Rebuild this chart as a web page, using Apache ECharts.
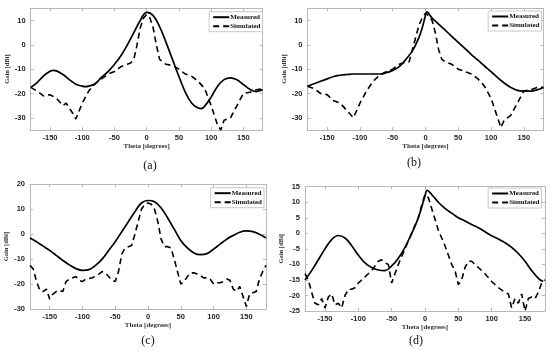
<!DOCTYPE html>
<html><head><meta charset="utf-8">
<script src="https://cdn.jsdelivr.net/npm/echarts@6/dist/echarts.min.js"></script>
<style>html,body{margin:0;padding:0;background:#fff}#c{width:550px;height:352px}</style>
</head><body><div id="c"></div>
<script>
// ---- data ----
const xTicks = [-150, -100, -50, 0, 50, 100, 150];
const yTicksA = [-30, -20, -10, 0, 10];
const yTicksB = [-30, -20, -10, 0, 10];
const yTicksC = [-30, -20, -10, 0, 10, 20];
const yTicksD = [-25, -20, -15, -10, -5, 0, 5, 10, 15];
const captions = ['(a)', '(b)', '(c)', '(d)'];

const aMeasAng = [-180,-170,-160,-150,-145,-140,-130,-120,-110,-100,-95,-90,-80,-70,-60,-50,-40,-30,-20,-10,0,10,20,30,40,50,60,70,80,85,90,100,110,120,130,140,150,160,170,180];
const aMeasGain = [-17.5,-15.5,-12.8,-10.9,-10.5,-10.7,-12.2,-14.3,-16.2,-17.0,-17.2,-17.0,-16.0,-13.3,-11.0,-8.0,-4.5,0.0,5.0,10.0,13.3,12.0,7.5,1.0,-6.0,-13.0,-19.5,-24.0,-26.0,-26.2,-25.2,-21.5,-17.0,-14.3,-13.6,-14.4,-16.3,-18.3,-19.2,-18.5];
const aSimAng = [-180,-170,-160,-150,-140,-130,-125,-115,-110,-100,-90,-80,-70,-60,-50,-40,-30,-25,-20,-15,-10,-5,0,5,10,15,20,30,40,50,60,70,80,90,100,110,115,120,130,140,150,160,170,180];
const aSimGain = [-17.5,-19,-21,-20.5,-22,-25,-24,-28,-30.5,-24,-19,-16,-14,-12,-11,-9,-8,-7.5,-6,0,7,11,12.5,11,7,0,-6,-8,-8.5,-10,-12,-13,-15,-18,-25,-33,-35,-31,-30,-25,-20,-19.5,-18.5,-18];

const bMeasAng = [-180,-170,-160,-150,-140,-130,-120,-110,-100,-90,-80,-70,-60,-50,-40,-30,-20,-10,-5,0,2,10,20,30,40,50,60,70,80,90,100,110,120,130,140,150,160,170,180];
const bMeasGain = [-17,-16,-15,-14,-13,-12.5,-12.2,-12,-12,-12,-12,-12,-11.5,-10.5,-9,-6,-2.5,3,7,12,13.5,11,8.5,6,3.5,1,-1.5,-4,-6.3,-8.7,-11,-13.5,-15.7,-17.5,-18.7,-19,-19,-18.5,-17.5];
const bSimAng = [-180,-170,-160,-150,-140,-130,-120,-110,-100,-90,-80,-70,-60,-50,-40,-35,-25,-20,-15,-10,-5,0,5,10,15,20,25,30,40,50,60,70,80,90,100,110,115,120,130,140,150,160,170,180];
const bSimGain = [-17,-18,-20,-20.5,-23,-24,-27,-30,-24,-19,-15,-12.5,-11,-10,-8,-7.5,-7,-2,3,8,11,13,12,10,5,-2,-6,-7,-8,-10,-11,-12,-14,-17,-22,-30,-34,-31,-29,-24,-19,-18.5,-17.5,-17.5];

const cMeasAng = [-180,-170,-160,-150,-140,-130,-120,-110,-100,-90,-80,-70,-60,-50,-40,-30,-20,-10,0,10,20,30,40,50,60,70,80,90,100,110,120,130,140,150,160,170,180];
const cMeasGain = [-1.5,-3,-4.8,-6.5,-8.5,-10.5,-12.3,-13.8,-14.5,-14.2,-12.5,-10,-6.5,-3,1,5,9,12.5,13.5,13,10.5,6.5,2,-2.5,-5.5,-7.5,-8.2,-7.8,-6,-4,-2,-0.5,0.8,1.3,1,0,-1.5];
const cSimAng = [-180,-175,-170,-165,-160,-155,-150,-145,-140,-135,-130,-125,-120,-110,-105,-100,-95,-85,-75,-70,-65,-60,-55,-50,-45,-40,-35,-30,-25,-20,-15,-10,-5,0,5,10,15,20,25,30,35,40,45,50,53,55,60,65,70,75,80,85,90,95,100,105,110,115,120,125,130,135,140,145,150,155,160,165,170,175,180];
const cSimGain = [-12.5,-14,-19,-22.5,-23,-22,-26,-24,-23,-22.5,-23,-19,-18,-17,-18.5,-19,-18,-17.5,-16,-15,-15.5,-17,-18.5,-19,-15,-8,-5.5,-5,-4.5,0,5,10,12,12.5,12,10,5,-2,-5,-5,-5.5,-10,-15,-20,-20.5,-19,-17,-15.5,-15.5,-16,-16.5,-17.5,-17.5,-18,-20,-19.5,-19.5,-19,-18,-18.5,-22,-23,-21,-25,-29,-24,-23.5,-23,-18,-15,-12.5];

const dMeasAng = [-180,-170,-160,-150,-140,-130,-120,-110,-100,-90,-80,-70,-60,-50,-40,-30,-20,-10,0,3,10,20,30,40,50,60,70,80,90,100,110,120,130,140,150,160,170,177];
const dMeasGain = [-15,-12,-8.5,-5,-2,-0.7,-1.5,-4,-7,-9.5,-11,-11.8,-12,-10.5,-8,-4.5,0,5,12,13.8,12.5,10,8,6.5,5,4,2.8,1.8,0.5,-0.8,-1.8,-3,-4.5,-6.5,-9,-12,-14.5,-15.5];
const dSimAng = [-180,-175,-170,-165,-160,-155,-150,-145,-140,-135,-130,-125,-120,-115,-110,-105,-100,-90,-80,-70,-65,-60,-55,-50,-45,-40,-30,-20,-10,-5,0,5,10,20,30,40,45,50,55,60,65,70,80,90,100,110,120,125,130,135,140,145,150,155,160,165,170,175,180];
const dSimGain = [-13,-15,-19,-22.5,-23,-21,-24,-20.5,-19.5,-23,-22.5,-24,-20,-18,-18,-17.5,-16,-14,-12,-9,-8.5,-9.5,-10,-16,-13,-10,-5,0,5,9,12.5,11.5,8,1,-4,-10,-12,-16.5,-15,-11,-9,-9,-11,-13,-15.5,-17.5,-19,-19.5,-24,-21,-22.5,-19.5,-25,-21,-20.5,-21,-19,-16,-15];

// ---- layout ----
const grids = [
  {left: 30.7, top: 8.3, width: 232, height: 121.7},
  {left: 307.5, top: 8.3, width: 236, height: 121.7},
  {left: 30, top: 184.3, width: 236, height: 124.7},
  {left: 305, top: 186.7, width: 240, height: 124.3}
];
const yRanges = [[-35, 15, yTicksA], [-35, 15, yTicksB], [-30, 20, yTicksC], [-25, 15, yTicksD]];
const legendPos = [[287.5, 11.7], [8.5, 11], [286, 187.7], [8.5, 188]];
const captionPos = [[150, 166], [414, 163], [148, 341], [416, 341]];

const zip = (a, b) => a.map((v, i) => [v, b[i]]);
const seriesData = [
  [zip(aMeasAng, aMeasGain), zip(aSimAng, aSimGain)],
  [zip(bMeasAng, bMeasGain), zip(bSimAng, bSimGain)],
  [zip(cMeasAng, cMeasGain), zip(cSimAng, cSimGain)],
  [zip(dMeasAng, dMeasGain), zip(dSimAng, dSimGain)]
];

const boxColor = '#b8b8b8';
const lblFont = {fontFamily: 'Liberation Sans', fontWeight: 'bold', fontSize: 7.5, color: '#262626'};
const nameFont = {fontFamily: 'Liberation Serif', fontWeight: 'bold', fontSize: 7, color: '#333'};
const boxLine = {show: true, onZero: false, lineStyle: {color: boxColor, width: 1}};

const xAxes = [], yAxes = [], series = [], legends = [], graphics = [];
grids.forEach((g, i) => {
  const [ymin, ymax, yt] = yRanges[i];
  xAxes.push({
    type: 'value', gridIndex: i, min: -180, max: 180, position: 'bottom',
    name: 'Theta [degrees]', nameLocation: 'middle', nameGap: 12, nameTextStyle: nameFont,
    axisLine: boxLine,
    axisTick: {show: true, inside: true, length: 3, customValues: xTicks, lineStyle: {color: boxColor}},
    axisLabel: Object.assign({customValues: xTicks, margin: 4}, lblFont),
    splitLine: {show: false}
  });
  xAxes.push({
    type: 'value', gridIndex: i, min: -180, max: 180, position: 'top',
    axisLine: boxLine,
    axisTick: {show: true, inside: true, length: 3, customValues: xTicks, lineStyle: {color: boxColor}},
    axisLabel: {show: false}, splitLine: {show: false}
  });
  yAxes.push({
    type: 'value', gridIndex: i, min: ymin, max: ymax, position: 'left',
    name: 'Gain [dBi]', nameLocation: 'middle', nameGap: 17, nameRotate: 90, nameTextStyle: Object.assign({}, nameFont, {fontSize: 6.5}),
    axisLine: boxLine,
    axisTick: {show: true, inside: true, length: 3, customValues: yt, lineStyle: {color: boxColor}},
    axisLabel: Object.assign({customValues: yt, margin: 5}, lblFont),
    splitLine: {show: false}
  });
  yAxes.push({
    type: 'value', gridIndex: i, min: ymin, max: ymax, position: 'right',
    axisLine: boxLine,
    axisTick: {show: true, inside: true, length: 3, customValues: yt, lineStyle: {color: boxColor}},
    axisLabel: {show: false}, splitLine: {show: false}
  });
  series.push({
    name: 'Measured', type: 'line', xAxisIndex: 2 * i, yAxisIndex: 2 * i,
    data: seriesData[i][0], symbol: 'none', smooth: 0.4,
    lineStyle: {color: '#000', width: 1.7}, itemStyle: {color: '#000'}, z: 3
  });
  series.push({
    name: 'Simulated', type: 'line', xAxisIndex: 2 * i, yAxisIndex: 2 * i,
    data: seriesData[i][1], symbol: 'none', smooth: false,
    lineStyle: {color: '#000', width: 1.6, type: [6, 4]}, itemStyle: {color: '#000'}, z: 2
  });
  legends.push({
    right: legendPos[i][0], top: legendPos[i][1], orient: 'vertical',
    data: ['Measured', 'Simulated'], itemWidth: 16, itemHeight: 6, itemGap: 2,
    padding: [2, 2, 2, 3], borderColor: '#c8c8c8', borderWidth: 1, backgroundColor: '#fff',
    selectedMode: false,
    itemStyle: {opacity: 0},
    textStyle: {fontFamily: 'Liberation Serif', fontWeight: 'bold', fontSize: 7, color: '#111', padding: [0, 0, 0, -4]}
  });
  graphics.push({
    type: 'text', x: captionPos[i][0], y: captionPos[i][1],
    style: {text: captions[i], fontFamily: 'Liberation Serif', fontSize: 12, fill: '#111', align: 'center', verticalAlign: 'middle'}
  });
});

const chart = echarts.init(document.getElementById('c'), null, {renderer: 'canvas'});
chart.setOption({
  animation: false,
  backgroundColor: '#fff',
  grid: grids.map(g => Object.assign({containLabel: false}, g)),
  xAxis: xAxes, yAxis: yAxes, series: series, legend: legends, graphic: graphics
});
</script></body></html>
